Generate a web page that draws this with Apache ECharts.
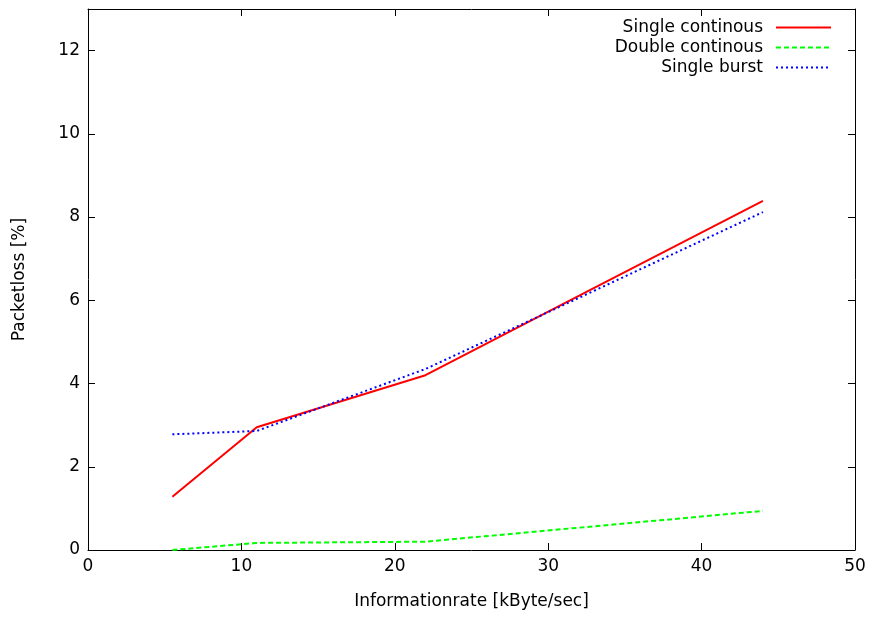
<!DOCTYPE html>
<html>
<head>
<meta charset="utf-8">
<script src="https://cdn.jsdelivr.net/npm/echarts@6/dist/echarts.min.js"></script>
<style>
  html, body { margin: 0; padding: 0; background: #fff; }
  #chart { width: 874px; height: 617px; }
</style>
</head>
<body>
<div id="chart"></div>
<script>
// informationrate, kByte/sec
const rates = [5.5, 11, 22, 33, 44];
// packetloss in %
const singleContinous = [1.28, 2.95, 4.2, 6.3, 8.39];
const doubleContinous = [0, 0.17, 0.2, 0.57, 0.94];
const singleBurst = [2.78, 2.86, 4.35, 6.23, 8.12];

const seriesNames = ['Single continous', 'Double continous', 'Single burst'];

const font = '"DejaVu Sans", Helvetica, Arial, sans-serif';

const chart = echarts.init(document.getElementById('chart'));

function pairs(vals) {
  return rates.map((x, i) => [x, vals[i]]);
}

// axis with gnuplot style ticks on the inside
function axisBase(min, max, step, showLabels, labelMax) {
  return {
    type: 'value',
    min: min,
    max: max,
    interval: step,
    axisLine: { show: true, onZero: false, lineStyle: { color: '#000', width: 1 } },
    axisTick: { show: true, inside: true, length: 7, lineStyle: { color: '#000', width: 1 } },
    axisLabel: {
      show: showLabels, color: '#000', fontSize: 17, fontFamily: font,
      formatter: v => (v > labelMax ? '' : String(v))
    },
    splitLine: { show: false }
  };
}

function legendRow(name, top) {
  return {
    data: [name],
    right: 42,
    top: top,
    padding: 0,
    align: 'right',
    itemWidth: 55,
    itemHeight: 12,
    selectedMode: false,
    itemStyle: { opacity: 0 },
    textStyle: { color: '#000', fontSize: 17, fontFamily: font, padding: [0, 8, 0, 0] }
  };
}

const option = {
  animation: false,
  backgroundColor: '#fff',
  grid: { left: 88, right: 19, top: 9, bottom: 67 },
  legend: [
    legendRow(seriesNames[0], 19),
    legendRow(seriesNames[1], 39),
    legendRow(seriesNames[2], 59)
  ],
  xAxis: [
    Object.assign(axisBase(0, 50, 10, true, 50), {
      position: 'bottom',
      name: 'Informationrate [kByte/sec]',
      nameLocation: 'middle',
      nameGap: 43,
      nameTextStyle: { color: '#000', fontSize: 17, fontFamily: font }
    }),
    Object.assign(axisBase(0, 50, 10, false, 50), { position: 'top' })
  ],
  yAxis: [
    Object.assign(axisBase(0, 13, 2, true, 12), {
      position: 'left',
      name: 'Packetloss [%]',
      nameLocation: 'middle',
      nameGap: 60,
      nameTextStyle: { color: '#000', fontSize: 17, fontFamily: font }
    }),
    Object.assign(axisBase(0, 13, 2, false, 12), { position: 'right' })
  ],
  series: [
    {
      name: seriesNames[0],
      type: 'line',
      data: pairs(singleContinous),
      symbol: 'none',
      color: '#ff0000',
      lineStyle: { color: '#ff0000', width: 2 }
    },
    {
      name: seriesNames[1],
      type: 'line',
      data: pairs(doubleContinous),
      symbol: 'none',
      color: '#00ff00',
      lineStyle: { color: '#00ff00', width: 2, type: [5, 3] }
    },
    {
      name: seriesNames[2],
      type: 'line',
      data: pairs(singleBurst),
      symbol: 'none',
      color: '#0000ff',
      lineStyle: { color: '#0000ff', width: 2, type: [2, 3] }
    }
  ]
};

chart.setOption(option);
</script>
</body>
</html>
